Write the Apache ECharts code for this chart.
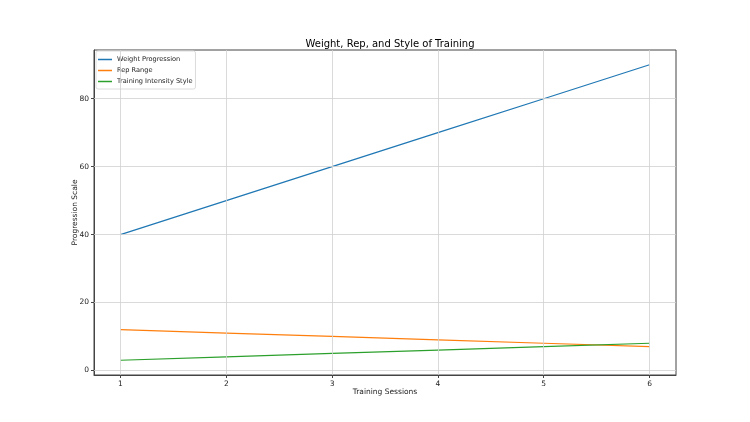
<!DOCTYPE html>
<html>
<head>
<meta charset="utf-8">
<script src="https://cdn.jsdelivr.net/npm/echarts@6/dist/echarts.min.js"></script>
<style>
  html, body { margin: 0; padding: 0; background: #fff; }
  #chart { width: 750px; height: 422px; }
</style>
</head>
<body>
<div id="chart"></div>
<script>
'use strict';
// data
const sessions = [1, 2, 3, 4, 5, 6];
const weightProgression = [40, 50, 60, 70, 80, 90];
const repRange = [12, 11, 10, 9, 8, 7];
const intensityStyle = [3, 4, 5, 6, 7, 8];
const xTicks = [1, 2, 3, 4, 5, 6];
const yTicks = [0, 20, 40, 60, 80];

const font = 'DejaVu Sans';
const gridColor = '#d0d0d0';

function pairs(values) {
    return sessions.map((s, i) => [s, values[i]]);
}

function init() {
    const chart = echarts.init(document.getElementById('chart'));
    const option = {
        animation: false,
        textStyle: { fontFamily: font },
        title: {
            text: 'Weight, Rep, and Style of Training',
            left: 385,
            textAlign: 'center',
            top: 34,
            textStyle: { fontSize: 10, fontWeight: 'normal', color: '#000', fontFamily: font },
        },
        legend: {
            data: ['Weight Progression', 'Rep Range', 'Training Intensity Style'],
            orient: 'vertical',
            left: 96,
            top: 51,
            icon: 'rect',
            itemWidth: 14,
            itemHeight: 1.5,
            itemGap: 4,
            padding: [5, 3, 4, 2],
            borderColor: '#dcdcdc',
            borderWidth: 1,
            borderRadius: 2,
            backgroundColor: 'rgba(255,255,255,0.85)',
            textStyle: { fontSize: 6.6, color: '#222', fontFamily: font, padding: [0, 0, 0, 0] },
        },
        grid: {
            left: 94,
            right: 74,
            top: 50,
            bottom: 47,
            show: true,
            borderColor: '#444',
            borderWidth: 1,
        },
        xAxis: {
            type: 'value',
            min: 0.75,
            max: 6.25,
            name: 'Training Sessions',
            nameLocation: 'middle',
            nameGap: 13,
            nameMoveOverlap: false,
            nameTextStyle: { fontSize: 7.5, color: '#222' },
            axisLine: { show: true, onZero: false, lineStyle: { color: '#444' } },
            axisTick: { show: true, length: 3, customValues: xTicks, lineStyle: { color: '#444' } },
            axisLabel: { customValues: xTicks, fontSize: 7.5, color: '#222', margin: 5 },
            splitLine: { show: false },
        },
        yAxis: {
            type: 'value',
            min: -1.35,
            max: 94.35,
            name: 'Progression Scale',
            nameLocation: 'middle',
            nameGap: 15,
            nameMoveOverlap: false,
            nameRotate: 90,
            nameTextStyle: { fontSize: 7.5, color: '#222' },
            axisLine: { show: true, onZero: false, lineStyle: { color: '#444' } },
            axisTick: { show: true, length: 3, customValues: yTicks, lineStyle: { color: '#444' } },
            axisLabel: { customValues: yTicks, fontSize: 7.5, color: '#222', margin: 5 },
            splitLine: { show: false },
        },
        series: [
            {
                name: 'grid',
                type: 'line',
                data: [],
                silent: true,
                z: 1,
                markLine: {
                    silent: true,
                    symbol: 'none',
                    label: { show: false },
                    lineStyle: { color: gridColor, width: 0.8, type: 'solid' },
                    data: xTicks.map(v => ({ xAxis: v }))
                        .concat(yTicks.map(v => ({ yAxis: v }))),
                },
            },
            {
                name: 'Weight Progression',
                type: 'line',
                data: pairs(weightProgression),
                showSymbol: false,
                color: '#1f77b4',
                lineStyle: { width: 1.2 },
                z: 3,
            },
            {
                name: 'Rep Range',
                type: 'line',
                data: pairs(repRange),
                showSymbol: false,
                color: '#ff7f0e',
                lineStyle: { width: 1.2 },
                z: 3,
            },
            {
                name: 'Training Intensity Style',
                type: 'line',
                data: pairs(intensityStyle),
                showSymbol: false,
                color: '#2ca02c',
                lineStyle: { width: 1.2 },
                z: 3,
            },
        ],
    };
    chart.setOption(option);
}

(function () {
    init();
})();
</script>
</body>
</html>
